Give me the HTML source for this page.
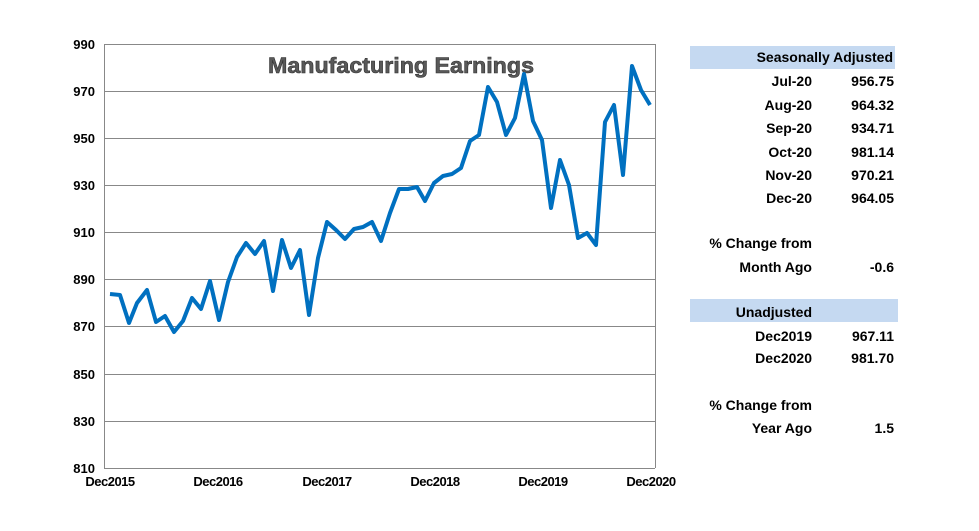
<!DOCTYPE html>
<html><head><style>
body{margin:0;background:#fff;width:979px;height:531px;overflow:hidden;font-family:"Liberation Sans",Arial,sans-serif;}
.t{position:absolute;font-weight:bold;font-size:14px;color:#000;}
</style></head><body>
<svg width="979" height="531" style="position:absolute;left:0;top:0">
<g stroke="#888" stroke-width="1">
<line x1="104" y1="44.5" x2="655" y2="44.5"/>
<line x1="104" y1="91.5" x2="655" y2="91.5"/>
<line x1="104" y1="138.5" x2="655" y2="138.5"/>
<line x1="104" y1="185.5" x2="655" y2="185.5"/>
<line x1="104" y1="232.5" x2="655" y2="232.5"/>
<line x1="104" y1="279.5" x2="655" y2="279.5"/>
<line x1="104" y1="326.5" x2="655" y2="326.5"/>
<line x1="104" y1="374.5" x2="655" y2="374.5"/>
<line x1="104" y1="421.5" x2="655" y2="421.5"/>
<line x1="104" y1="468.5" x2="655" y2="468.5"/>
<line x1="104.5" y1="44" x2="104.5" y2="468"/>
<line x1="655.5" y1="44" x2="655.5" y2="468"/>
</g>
<g font-family="Liberation Sans,Arial,sans-serif" font-weight="bold" font-size="13" fill="#000" text-anchor="end">
<text x="95" y="49">990</text><text x="95" y="96">970</text><text x="95" y="143">950</text>
<text x="95" y="190">930</text><text x="95" y="237">910</text><text x="95" y="284">890</text>
<text x="95" y="331">870</text><text x="95" y="379">850</text><text x="95" y="426">830</text>
<text x="95" y="473">810</text>
</g>
<g font-family="Liberation Sans,Arial,sans-serif" font-weight="bold" font-size="13" fill="#000" text-anchor="middle" letter-spacing="-0.5">
<text x="110" y="486">Dec2015</text><text x="218" y="486">Dec2016</text><text x="327" y="486">Dec2017</text>
<text x="435" y="486">Dec2018</text><text x="543" y="486">Dec2019</text><text x="651" y="486">Dec2020</text>
</g>
<text x="401" y="73" text-anchor="middle" font-family="Liberation Sans,Arial,sans-serif" font-weight="bold" font-size="22" fill="#595959" stroke="#333" stroke-width="0.6" textLength="266" lengthAdjust="spacingAndGlyphs">Manufacturing Earnings</text>
<polyline fill="none" stroke="#0070c0" stroke-width="4" stroke-linejoin="round" points="110,294 120,295 129,323 137,303 147,290 156,322 165,316 174,332 183,321 192,298 201,309 210,281 219,320 228,282 237,257 246,243 255,254 264,241 273,291 282,240 291,268 300,250 309,315 318,258 327,222 336,230 345,239 354,229 363,227 372,222 381,241 390,213 399,189 408,189 417,187 425,201 434,183 443,176 452,174 461,168 470,141 479,135 488,87 497,102 506,135 515,118 524,74 533,121 542,140 551,208 560,160 569,185 578,238 587,233 596,245 605,122 614,105 623,175 632,66 641,90 650,105"/>
<rect x="690" y="46" width="205" height="23" fill="#c5d9f1"/>
<rect x="690" y="299" width="208" height="23" fill="#c5d9f1"/>
</svg>
<div class="t" style="left:690px;top:49px;width:203px;text-align:right">Seasonally Adjusted</div>
<div class="t" style="left:690px;top:73px;width:122px;text-align:right">Jul-20</div><div class="t" style="left:820px;top:73px;width:74px;text-align:right">956.75</div>
<div class="t" style="left:690px;top:97px;width:122px;text-align:right">Aug-20</div><div class="t" style="left:820px;top:97px;width:74px;text-align:right">964.32</div>
<div class="t" style="left:690px;top:120px;width:122px;text-align:right">Sep-20</div><div class="t" style="left:820px;top:120px;width:74px;text-align:right">934.71</div>
<div class="t" style="left:690px;top:144px;width:122px;text-align:right">Oct-20</div><div class="t" style="left:820px;top:144px;width:74px;text-align:right">981.14</div>
<div class="t" style="left:690px;top:167px;width:122px;text-align:right">Nov-20</div><div class="t" style="left:820px;top:167px;width:74px;text-align:right">970.21</div>
<div class="t" style="left:690px;top:190px;width:122px;text-align:right">Dec-20</div><div class="t" style="left:820px;top:190px;width:74px;text-align:right">964.05</div>
<div class="t" style="left:690px;top:235px;width:122px;text-align:right">% Change from</div>
<div class="t" style="left:690px;top:259px;width:122px;text-align:right">Month Ago</div><div class="t" style="left:820px;top:259px;width:74px;text-align:right">-0.6</div>
<div class="t" style="left:690px;top:304px;width:122px;text-align:right">Unadjusted</div>
<div class="t" style="left:690px;top:328px;width:122px;text-align:right">Dec2019</div><div class="t" style="left:820px;top:328px;width:74px;text-align:right">967.11</div>
<div class="t" style="left:690px;top:350px;width:122px;text-align:right">Dec2020</div><div class="t" style="left:820px;top:350px;width:74px;text-align:right">981.70</div>
<div class="t" style="left:690px;top:397px;width:122px;text-align:right">% Change from</div>
<div class="t" style="left:690px;top:420px;width:122px;text-align:right">Year Ago</div><div class="t" style="left:820px;top:420px;width:74px;text-align:right">1.5</div>
</body></html>
